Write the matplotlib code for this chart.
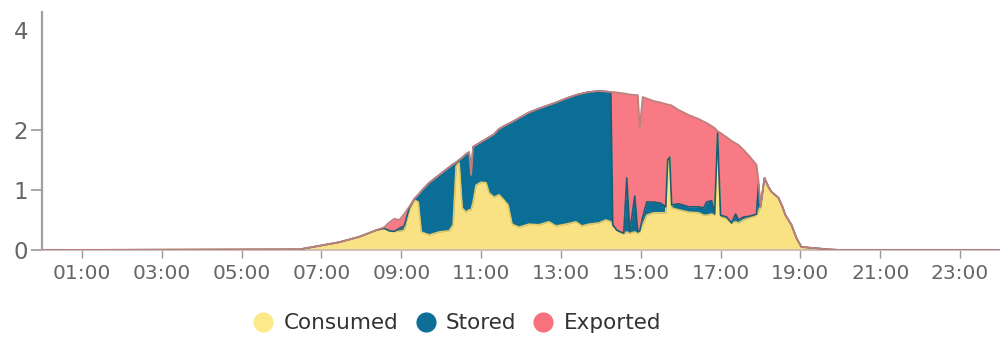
import numpy as np
import matplotlib
matplotlib.use("Agg")
import matplotlib.pyplot as plt
from matplotlib.lines import Line2D

plt.rcParams['font.family'] = ['DejaVu Sans']

# time of day (hours) and power per flow (kW)
hours = [0.0, 6.45, 6.95, 7.45, 7.95, 8.375, 8.575, 8.7, 8.825, 8.95, 9.075, 9.2,
         9.325, 9.425, 9.5, 9.7, 9.95, 10.2, 10.3, 10.375, 10.45, 10.525, 10.625,
         10.7, 10.75, 10.8, 10.875, 11.0, 11.125, 11.2, 11.325, 11.45, 11.575,
         11.675, 11.775, 11.95, 12.2, 12.45, 12.7, 12.875, 13.125, 13.375, 13.525,
         13.7, 13.95, 14.125, 14.25, 14.3, 14.4, 14.5, 14.575, 14.65, 14.725, 14.85,
         14.925, 14.975, 15.05, 15.15, 15.325, 15.5, 15.625, 15.675, 15.725, 15.775,
         15.95, 16.2, 16.45, 16.575, 16.65, 16.775, 16.85, 16.925, 17.0, 17.15,
         17.275, 17.375, 17.45, 17.575, 17.7, 17.825, 17.9, 17.95, 18.0, 18.1, 18.2,
         18.275, 18.45, 18.55, 18.625, 18.775, 18.9, 19.025, 19.375, 19.7, 20.0, 24.0]

consumed = [0, .01, .07, .13, .22, .33, .36, .32, .31, .31, .33, .65,
            .83, .8, .3, .25, .3, .32, .42, 1.4, 1.45, .7, .63,
            .67, .67, .8, 1.08, 1.13, 1.12, .95, .88, .92, .83,
            .75, .43, .38, .43, .42, .47, .4, .43, .47, .4,
            .43, .45, .5, .47, .4, .33, .28, .27, .3, .28, .3,
            .28, .3, .42, .58, .62, .62, .62, 1.5, 1.55, .7,
            .67, .63, .62, .58, .58, .6, .58, 1.9, .55, .52,
            .45, .47, .45, .5, .53, .56, .58, .65, .72, 1.2, 1.05,
            .97, .87, .72, .58, .42, .2, .05, .03, .01, 0, 0]

stored = [0, 0, 0, 0, 0, 0, 0, 0, 0, .05, .07, .05,
          .02, .12, .68, .87, .95, 1.06, 1.01, .06, .05, .84, .97,
          .96, .58, .92, .67, .67, .73, .93, 1.05, 1.1, 1.25,
          1.37, 1.73, 1.86, 1.92, 2.01, 2.03, 2.15, 2.2, 2.23, 2.33,
          2.33, 2.33, 2.27, 2.29, .02, 0, .02, .01, .9, .02, .6,
          .02, .02, .13, .22, .18, .16, .1, 0, 0, .05,
          .1, .09, .1, .12, .22, .22, .02, .05, .03, .03,
          0, .13, .05, .05, .03, .02, .02, .45, 0, 0, 0,
          0, 0, 0, 0, 0, 0, 0, 0, 0, 0, 0]

exported = [0, 0, 0, 0, 0, 0, .02, .14, .21, .14, .2, .02,
            0, 0, 0, 0, 0, 0, 0, 0, 0, 0, 0,
            0, 0, 0, 0, 0, 0, 0, 0, 0, 0,
            0, 0, 0, 0, 0, 0, 0, 0, 0, 0,
            0, 0, 0, 0, 2.34, 2.42, 2.44, 2.45, 1.52, 2.41, 1.8,
            2.4, 1.72, 2.11, 1.83, 1.78, 1.77, 1.8, 1.01, .95, 1.74,
            1.63, 1.58, 1.5, 1.47, 1.34, 1.26, 1.44, .03, 1.37, 1.33,
            1.37, 1.18, 1.25, 1.12, 1.02, .9, .82, .05, 0, 0, 0,
            0, 0, 0, 0, 0, 0, 0, 0, 0, 0, 0]

x_ticks = [1, 3, 5, 7, 9, 11, 13, 15, 17, 19, 21, 23]
x_labels = ['%02d:00' % h for h in x_ticks]
y_ticks = [0, 1, 2, 4]

names = ['Consumed', 'Stored', 'Exported']
fills = ['#f9e283', '#0b6e96', '#f87a84']
edges = ['#e2c965', '#1d5c73', '#c07e7e']

# stretched scale: linear up to 2, compressed above
_src = [0, 2, 4, 8]
_dst = [0, 2, 3.667, 7]


def fwd(v):
    return np.interp(v, _src, _dst)


def inv(v):
    return np.interp(v, _dst, _src)


fig = plt.figure(figsize=(10, 3.38), dpi=100)
ax = fig.add_axes([0.042, 0.2604, 0.958, 0.704])
ax.set_yscale('function', functions=(fwd, inv))

t = np.array(hours)
c = np.array(consumed)
s = c + np.array(stored)
e = s + np.array(exported)

ax.fill_between(t, 0, c, color=fills[0], lw=0, zorder=2)
ax.fill_between(t, c, s, color=fills[1], lw=0, zorder=2)
ax.fill_between(t, s, e, color=fills[2], lw=0, zorder=2)
ax.plot(t, c, color=edges[0], lw=1.2, zorder=3)
ax.plot(t, s, color=edges[1], lw=1.2, zorder=3)
ax.plot(t, e, color=edges[2], lw=1.3, zorder=4)

ax.set_xlim(0, 24)
ax.set_ylim(0, 4.36)

ax.set_xticks(x_ticks)
ax.set_xticklabels(x_labels)
ax.set_yticks(y_ticks)
ax.set_yticklabels([str(v) for v in y_ticks])
ax.yaxis.get_major_ticks()[-1].tick1line.set_visible(False)

for side in ['top', 'right']:
    ax.spines[side].set_visible(False)
ax.spines['left'].set_color('#a0a0a0')
ax.spines['left'].set_linewidth(1.6)
ax.spines['bottom'].set_color('#c8b8b8')
ax.spines['bottom'].set_linewidth(1.2)

ax.tick_params(axis='x', length=6, width=1, color='#999999', labelcolor='#666666',
               labelsize=14.5, pad=4)
ax.tick_params(axis='y', length=8, width=1.2, color='#999999', labelcolor='#666666',
               labelsize=16.5, pad=2)

handles = [Line2D([], [], ls='none', marker='o', markersize=14.5, markerfacecolor=fc,
                  markeredgecolor='none') for fc in ['#fce98a', '#0d6e98', '#f7717e']]
fig.legend(handles, names, loc='center', bbox_to_anchor=(0.457, 0.044), ncol=3,
           frameon=False, fontsize=15.5, handletextpad=0.45, columnspacing=0.75,
           handlelength=1.0, labelcolor='#333333')

fig.savefig('out.png', dpi=100)
